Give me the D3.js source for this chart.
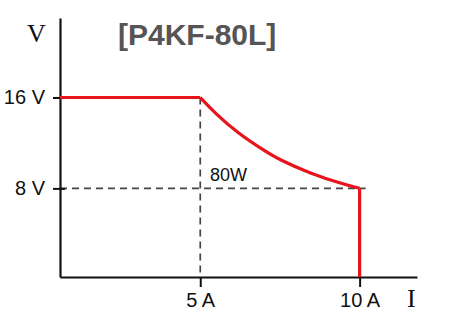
<!DOCTYPE html>
<html>
<head>
<meta charset="utf-8">
<script src="https://cdn.jsdelivr.net/npm/d3@7"></script>
<style>
  body { margin: 0; background: #fff; }
  svg { display: block; }
</style>
</head>
<body>
<div id="chart"></div>
<script>
var svgWidth = 450;
var svgHeight = 319;

// chart values (current in A, voltage in V)
var flatI = [0.6, 5];
var flatV = [16, 16];
var powerI = [5, 5.47, 6.19, 6.95, 7.52, 8.46, 9.40, 10];
var powerV = [16, 14.59, 12.84, 11.43, 10.46, 9.32, 8.44, 8];
var dropI = [10, 10];
var dropV = [8, 0.2];
var xTicks = [5, 10];
var yTicks = [8, 16];
var title = "[P4KF-80L]";
var powerLabel = "80W";

var svg = d3.select("#chart")
  .append("svg")
  .attr("width", svgWidth)
  .attr("height", svgHeight);

var xScale = d3.scaleLinear().domain([0.6, 11.8]).range([60, 417]);
var yScale = d3.scaleLinear().domain([0.2, 23]).range([277, 18]);

var red = "#e8141c";

// dashed guides
svg.append("line")
  .attr("x1", xScale(5)).attr("x2", xScale(5))
  .attr("y1", yScale(16)).attr("y2", yScale(0.2))
  .attr("stroke", "#444").attr("stroke-width", 1.7)
  .attr("stroke-dasharray", "7,5");

svg.append("line")
  .attr("x1", xScale(0.6)).attr("x2", xScale(10) + 6)
  .attr("y1", yScale(8)).attr("y2", yScale(8))
  .attr("stroke", "#444").attr("stroke-width", 1.7)
  .attr("stroke-dasharray", "7,5");

// axes
var xAxis = svg.append("g")
  .attr("transform", `translate(0, ${yScale(0.2)})`)
  .call(d3.axisBottom(xScale)
    .tickValues(xTicks)
    .tickSizeInner(10)
    .tickSizeOuter(0)
    .tickPadding(6)
    .tickFormat(d => d + " A"));

var yAxis = svg.append("g")
  .attr("transform", `translate(${xScale(0.6)}, 0)`)
  .call(d3.axisLeft(yScale)
    .tickValues(yTicks)
    .tickSizeInner(7)
    .tickSizeOuter(0)
    .tickPadding(8)
    .tickFormat(d => d + " V"));

yAxis.selectAll(".tick line").attr("x1", 5);

[xAxis, yAxis].forEach(function(a) {
  a.select(".domain").attr("stroke", "#111").attr("stroke-width", 2.2);
  a.selectAll(".tick line").attr("stroke", "#111").attr("stroke-width", 2);
  a.selectAll(".tick text")
    .attr("fill", "#111")
    .style("font-family", "'Liberation Sans', Arial, sans-serif")
    .style("font-size", "20px");
});

// characteristic curve
var line = d3.line()
  .x(d => xScale(d[0]))
  .y(d => yScale(d[1]));

svg.append("path")
  .datum(d3.zip(flatI, flatV))
  .attr("d", line)
  .attr("fill", "none").attr("stroke", red).attr("stroke-width", 3.2);

svg.append("path")
  .datum(d3.zip(powerI, powerV))
  .attr("d", line.curve(d3.curveBasis))
  .attr("fill", "none").attr("stroke", red).attr("stroke-width", 3.2);

svg.append("path")
  .datum(d3.zip(dropI, dropV))
  .attr("d", line.curve(d3.curveLinear))
  .attr("fill", "none").attr("stroke", red).attr("stroke-width", 3.2);

// labels
svg.append("text")
  .attr("x", 27).attr("y", 42)
  .style("font-family", "'Liberation Serif', 'Times New Roman', serif")
  .style("font-size", "26px")
  .attr("fill", "#111")
  .text("V");

svg.append("text")
  .attr("x", 407).attr("y", 307)
  .style("font-family", "'Liberation Serif', 'Times New Roman', serif")
  .style("font-size", "26px")
  .attr("fill", "#111")
  .text("I");

svg.append("text")
  .attr("x", 118).attr("y", 45)
  .style("font-family", "'Liberation Sans', Arial, sans-serif")
  .style("font-size", "30px")
  .style("font-weight", "bold")
  .attr("fill", "#555")
  .text(title);

svg.append("text")
  .attr("x", 210).attr("y", 181)
  .style("font-family", "'Liberation Sans', Arial, sans-serif")
  .style("font-size", "18px")
  .attr("fill", "#111")
  .attr("textLength", 37)
  .text(powerLabel);
</script>
</body>
</html>
